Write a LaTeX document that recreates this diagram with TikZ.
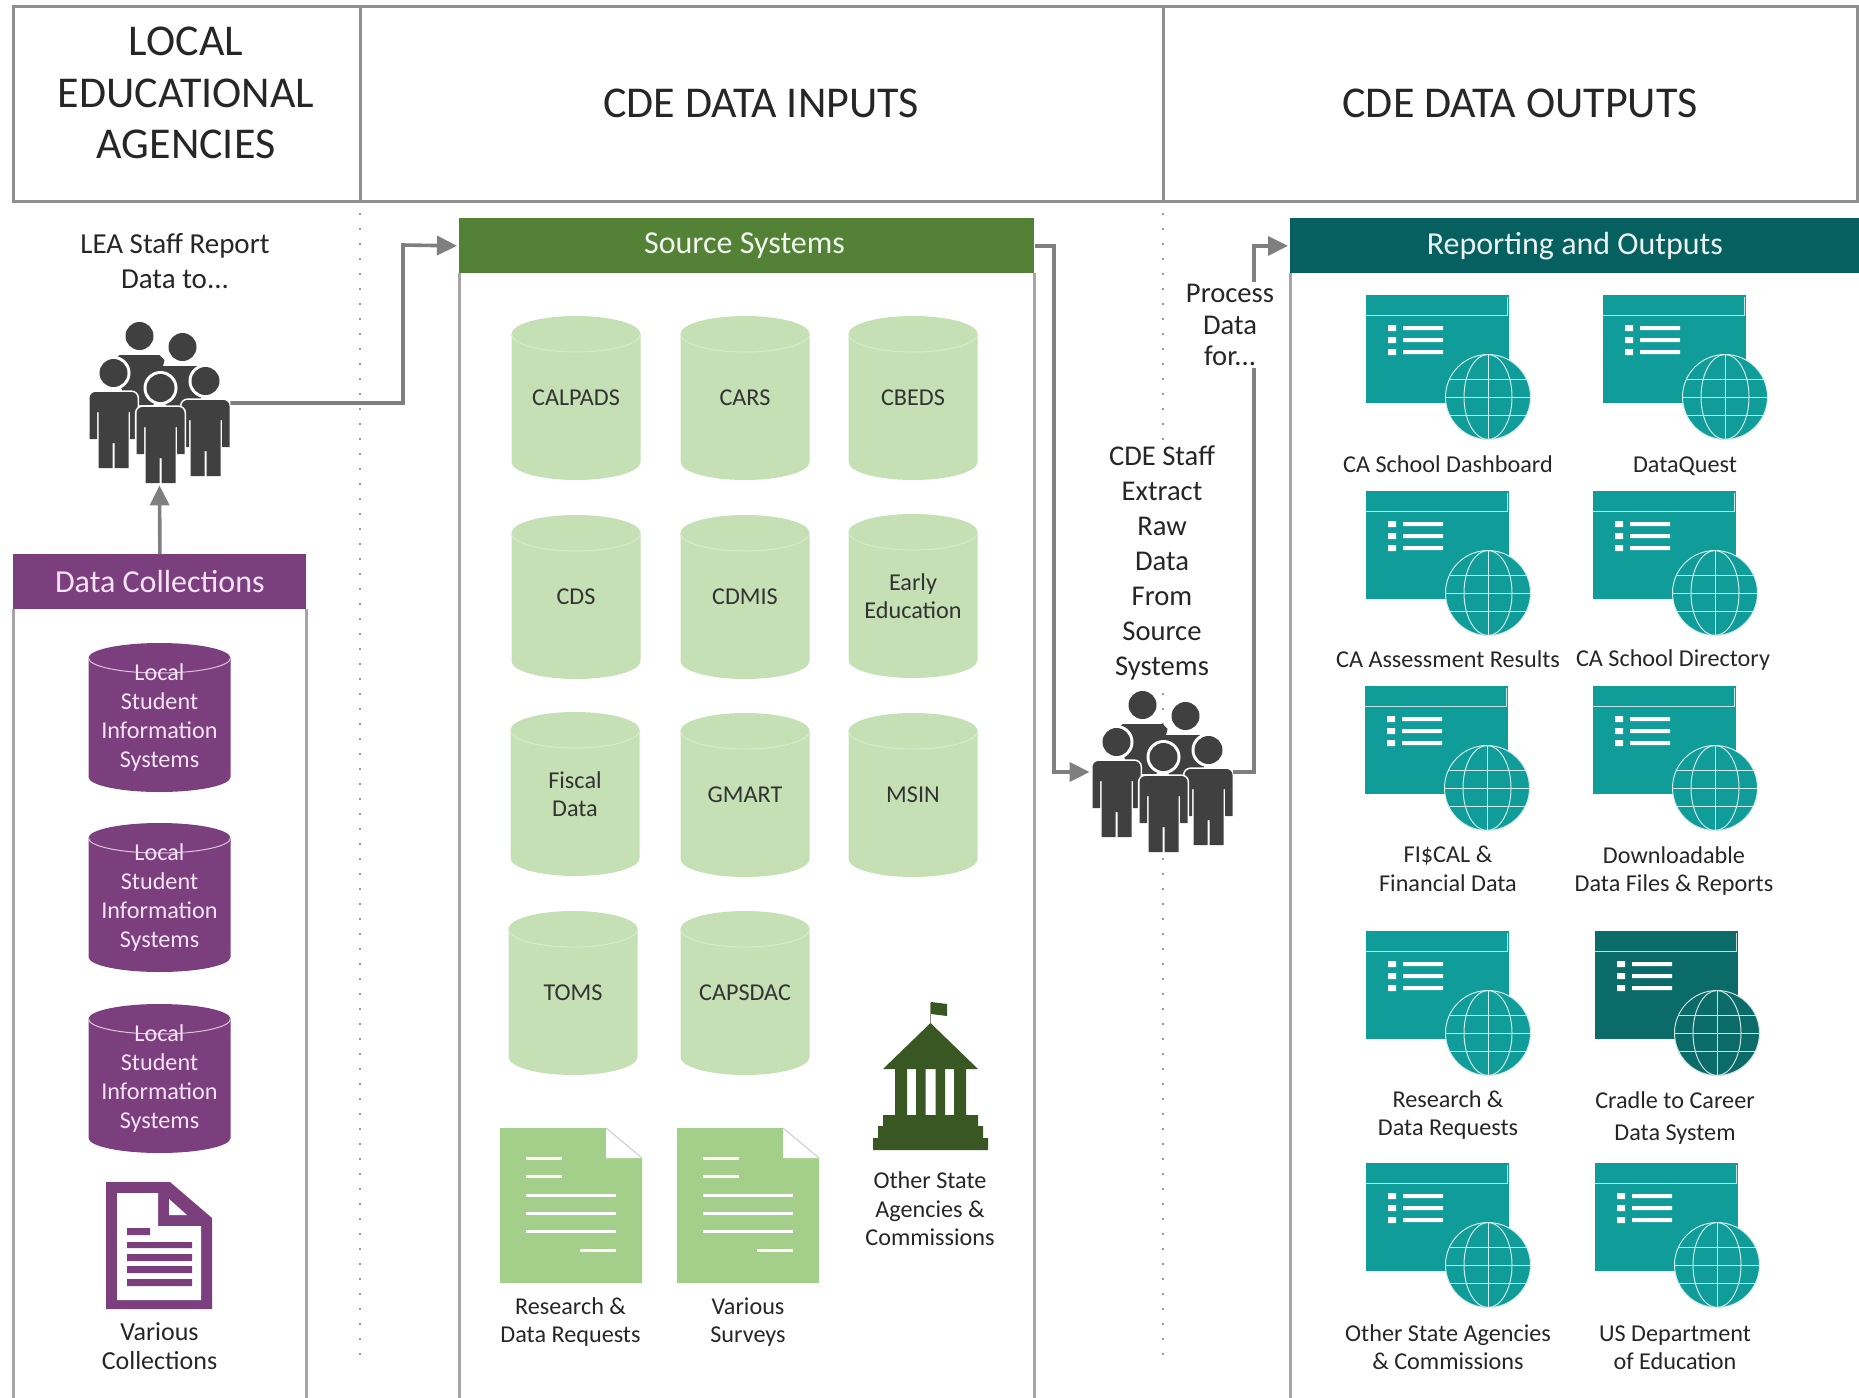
\documentclass[tikz,border=0pt]{standalone}
\usepackage{fontspec}
\setmainfont{Carlito}
\usetikzlibrary{arrows.meta}
\definecolor{txt}{HTML}{262626}
\definecolor{rulegray}{HTML}{A6A6A6}
\definecolor{hdrgray}{HTML}{8F8F8F}
\definecolor{flowgray}{HTML}{7F7F7F}
\definecolor{dark}{HTML}{404040}
\definecolor{purp}{HTML}{7C3F7E}
\definecolor{purptxt}{HTML}{F5E3F5}
\definecolor{hgreen}{HTML}{538135}
\definecolor{cylgreen}{HTML}{C5E0B4}
\definecolor{docgreen}{HTML}{A4CF8B}
\definecolor{treegreen}{HTML}{385723}
\definecolor{teal}{HTML}{109C98}
\definecolor{dteal}{HTML}{0B6B68}
\definecolor{hteal}{HTML}{05605F}
\tikzset{
  x=0.5pt,y=-0.5pt,
  boxrule/.style={draw=rulegray,line width=1.5pt},
  hdrrule/.style={draw=hdrgray,line width=1.5pt},
  flow/.style={draw=flowgray,line width=1.8pt,-{Triangle[length=10pt,width=9.5pt]},shorten >=1pt},
  dots/.style={draw=gray!80,line width=1pt,dash pattern=on 1pt off 6.5pt},
  lab/.style={inner sep=0pt,align=center,text=txt,font=\fontsize{12.1pt}{14.2pt}\selectfont},
  midlab/.style={inner sep=1pt,align=center,text=txt,fill=white,font=\fontsize{14.3pt}{#1}\selectfont},
  title/.style={inner sep=0pt,align=center,text=txt,font=\fontsize{22pt}{25.8pt}\selectfont},
  band/.style={inner sep=0pt,anchor=north west,font=\fontsize{16pt}{18pt}\selectfont},
}
% one standing figure, #1,#2 = middle of the shoulders
\newcommand\onePerson[2]{%
  \begin{scope}[shift={(#1,#2)}]
    \fill[white] (0,-19) circle[radius=17];
    \fill[dark] (0,-19) circle[radius=14];
    \path[fill=dark,preaction={draw=white,line width=1.6pt}]
      (-24,47) [rounded corners=3pt] -- (-24,0) -- (24,0) [sharp corners] -- (24,47) -- (16.5,47) -- (16.5,20) -- (15,20)
      -- (15,76) -- (1,76) -- (1,51) -- (-1,51) -- (-1,76) -- (-15,76) -- (-15,20) -- (-16.5,20) -- (-16.5,47) -- cycle;
  \end{scope}}
\newcommand\backPerson[2]{%
  \begin{scope}[shift={(#1,#2)}]
    \fill[dark] (0,-19) circle[radius=14];
    \fill[dark] (-20,0) -- (20,0) -- (25,5) -- (14,50) -- (-14,50) -- (-25,5) -- cycle;
  \end{scope}}
% crowd: #1 name, #2,#3 centre
\newcommand\crowd[3]{%
  \node[inner sep=0pt,minimum width=70.5pt,minimum height=80pt] (#1) at (#2,#3) {};
  \begin{scope}[shift={(#2,#3)}]
    \backPerson{-20}{-48}
    \backPerson{23}{-37}
    \onePerson{-46}{-11}
    \onePerson{46}{-3}
    \onePerson{1}{4}
  \end{scope}}
% cylinder: #1 name, #2 cx, #3 top, #4 w, #5 h, #6 ry, #7 fill, #8 edge
\newcommand\cylshape[8]{%
  \fill[#7] (#2-#4/2,#3+#6) arc[x radius=#4/2,y radius=#6,start angle=180,end angle=360]
     -- (#2+#4/2,#3+#5-#6) arc[x radius=#4/2,y radius=#6,start angle=0,end angle=180] -- cycle;
  \draw[#8,line width=0.5pt] (#2-#4/2,#3+#6) arc[x radius=#4/2,y radius=#6,start angle=180,end angle=0];
  \coordinate (#1) at (#2,#3+#5/2);}
\newcommand\gcyl[5]{% name cx top text
  \cylshape{#1c}{#2}{#3}{129}{164}{18}{cylgreen}{cylgreen!70!white}
  \node[lab,text=black!80] (#1) at (#2,#3+82) {#4};}
\newcommand\pcyl[2]{% name top
  \cylshape{#1c}{159.5}{#2}{142}{149}{15}{purp}{purptxt!80!purp}
  \node[lab,text=purptxt,font=\fontsize{12.1pt}{14.5pt}\selectfont] (#1) at (159.5,#2+74.5) {Local\\Student\\Information\\Systems};}
% green page: #1 left, #2 top
\newcommand\gdoc[2]{%
  \begin{scope}[shift={(#1,#2)}]
    \fill[docgreen] (0,0) -- (106,0) -- (142,30) -- (142,155) -- (0,155) -- cycle;
    \fill[white] (106,0) -- (142,30) -- (106,30) -- cycle;
    \draw[black!20,line width=0.5pt] (106,0) -- (142,30);
    \draw[white,line width=1.5pt]
      (26,30) -- (62,30) (26,48) -- (62,48) (26,67) -- (116,67)
      (26,85) -- (116,85) (26,103) -- (116,103) (80,122) -- (116,122);
  \end{scope}}
% web window: #1 left, #2 top, #3 colour
\newcommand\webicon[3]{%
  \begin{scope}[shift={(#1,#2)}]
    \fill[#3] (0,0) rectangle (143,108);
    \draw[white!75!#3,line width=0.5pt] (0,20) -- (141,20) -- (141,2);
    \fill[white] (22,30) rectangle (30,36) (22,42) rectangle (30,48) (22,54) rectangle (30,60);
    \fill[white] (37,31) rectangle (77,35) (37,43) rectangle (77,47) (37,55) rectangle (77,59);
    \fill[#3] (122,102) circle[radius=42.5];
    \draw[white!80!#3,line width=0.5pt] (122,102) circle[radius=42.5];
    \draw[white!80!#3,line width=0.5pt] (122,102) ellipse[x radius=24,y radius=42.5];
    \draw[white!80!#3,line width=0.5pt] (122,59.5) -- (122,144.5) (79.5,102) -- (164.5,102)
        (83.5,84) -- (160.5,84) (83.5,120) -- (160.5,120);
  \end{scope}}
\begin{document}
\begin{tikzpicture}
\useasboundingbox (0,0) rectangle (1859,1398);
\clip (0,0) rectangle (1859,1398);
% ---- top table
\draw[hdrrule] (13,6) rectangle (1857,201);
\coordinate (ht1) at (360,6); \coordinate (hb1) at (360,201);
\coordinate (ht2) at (1163,6); \coordinate (hb2) at (1163,201);
\draw[hdrrule] (ht1) -- (hb1) (ht2) -- (hb2);
\node[title] (tlea) at (186,93) {LOCAL\\EDUCATIONAL\\AGENCIES};
\node[title] (tin) at (761,103) {CDE DATA INPUTS};
\node[title] (tout) at (1520,103) {CDE DATA OUTPUTS};
% ---- dotted separators
\coordinate (d1a) at (360,213); \coordinate (d1b) at (360,1368);
\coordinate (d2a) at (1163,213); \coordinate (d2b) at (1163,1368);
\draw[dots] (d1a) -- (d1b);
\draw[dots] (d2a) -- (d2b);
% ---- panels
\coordinate (dcl) at (13,1398); \coordinate (dcr) at (306,1398);
\coordinate (srl) at (459,1398); \coordinate (srr) at (1034,1398);
\coordinate (rpl) at (1290,1398);
\draw[boxrule] (13,609) -- (dcl) (306,609) -- (dcr);
\draw[boxrule] (459,273) -- (srl) (1034,273) -- (srr);
\draw[boxrule] (1290,273) -- (rpl);
\node[band,fill=purp,text=purptxt,minimum width=146.5pt,minimum height=27.5pt] (dc) at (13,554) {Data Collections};
\node[band,fill=hgreen,text=white!92!hgreen,minimum width=287.5pt,minimum height=27.5pt] (src) at (459,218) {\hspace*{-2.4pt}Source Systems};
\node[band,fill=hteal,text=white!92!hteal,minimum width=284.5pt,minimum height=27.5pt] (rep) at (1290,218) {Reporting and Outputs};
% ---- crowds and connectors
\crowd{lea}{159.5}{403}
\crowd{cde}{1162.5}{772}
\coordinate (ea) at (403,245);
\coordinate (eb) at (1054,500);
\coordinate (ec) at (1254,500);
\draw[flow] (lea.east) -| (ea) -- (src.west);
\draw[flow] (dc.north) -- (lea.south);
\draw[flow] (src.east) -| (eb) |- (cde.west);
\draw[flow] (cde.east) -| (ec) |- (rep.west);
% ---- mid labels
\node[lab,font=\fontsize{14.5pt}{17.3pt}\selectfont] (staff) at (175,261) {LEA Staff Report\\Data to...};
\node[midlab=15.7pt] (proc) at (1230,325) {Process\\Data\\for...};
\node[midlab=17.5pt] (extr) at (1162,563) {CDE Staff\\Extract\\Raw\\Data\\From\\Source\\Systems};
% ---- purple column
\pcyl{p1}{643}
\pcyl{p2}{823}
\pcyl{p3}{1004}
\fill[purp] (106,1182) -- (170,1182) -- (212,1218) -- (212,1309) -- (106,1309) -- cycle;
\fill[white] (117,1193) -- (158,1193) -- (158,1226) -- (201,1226) -- (201,1300) -- (117,1300) -- cycle;
\fill[white] (169,1199) -- (169,1215) -- (187,1215) -- cycle;
\fill[purp] (127,1228) rectangle (150,1235)
  (127,1242) rectangle (192,1248) (127,1254) rectangle (192,1261)
  (127,1266) rectangle (192,1273) (127,1279) rectangle (192,1286);
\node[lab,font=\fontsize{13pt}{14.5pt}\selectfont] (vc) at (159.5,1346) {Various\\Collections};
% ---- source systems
\gcyl{calpads}{576}{316}{CALPADS}{}
\gcyl{cars}{745}{316}{CARS}{}
\gcyl{cbeds}{913}{316}{CBEDS}{}
\gcyl{cds}{576}{515}{CDS}{}
\gcyl{cdmis}{745}{515}{CDMIS}{}
\gcyl{early}{913}{514}{Early\\Education}{}
\gcyl{fiscal}{575}{712}{Fiscal\\Data}{}
\gcyl{gmart}{745}{713}{GMART}{}
\gcyl{msin}{913}{713}{MSIN}{}
\gcyl{toms}{573}{911}{TOMS}{}
\gcyl{capsdac}{745}{911}{CAPSDAC}{}
\gdoc{500}{1128}
\gdoc{677}{1128}
\node[lab] (rdr) at (570.5,1322) {Research \&\\Data Requests};
\node[lab] (vsu) at (748,1322) {Various\\Surveys};
% building
\fill[treegreen] (930.5,1023) -- (978,1069) -- (883,1069) -- cycle;
\fill[treegreen] (895,1069) rectangle (907,1115) (916,1069) rectangle (925.5,1115)
  (935.5,1069) rectangle (945,1115) (954,1069) rectangle (966,1115);
\fill[treegreen] (883,1115) rectangle (978,1126) (878,1126) rectangle (983,1138) (873,1138) rectangle (988,1150);
\draw[treegreen!60!white,line width=0.5pt] (930.5,1023) -- (930.5,1003);
\fill[treegreen] (931,1002) -- (947,1004) -- (947,1016) -- (931,1014) -- cycle;
\node[lab] (osa) at (930,1209) {Other State\\Agencies \&\\Commissions};
% ---- outputs
\webicon{1366}{295}{teal}
\webicon{1603}{295}{teal}
\webicon{1366}{491}{teal}
\webicon{1593}{491}{teal}
\webicon{1365}{686}{teal}
\webicon{1593}{686}{teal}
\webicon{1366}{931}{teal}
\webicon{1595}{931}{dteal}
\webicon{1366}{1163}{teal}
\webicon{1595}{1163}{teal}
\node[lab] (o1) at (1448,464) {CA School Dashboard};
\node[lab] (o2) at (1685,466) {DataQuest};
\node[lab] (o3) at (1448,659) {CA Assessment Results};
\node[lab] (o4) at (1673,660) {CA School Directory};
\node[lab] (o5) at (1448,869) {FI\$CAL \&\\Financial Data};
\node[lab] (o6) at (1674,871) {Downloadable\\Data Files \& Reports};
\node[lab] (o7) at (1448,1115) {Research \&\\Data Requests};
\node[lab,font=\fontsize{12.1pt}{16.4pt}\selectfont] (o8) at (1675,1118) {Cradle to Career\\Data System};
\node[lab] (o9) at (1448,1347) {Other State Agencies\\\& Commissions};
\node[lab] (o10) at (1675,1348) {US Department\\of Education};
\end{tikzpicture}
\end{document}
